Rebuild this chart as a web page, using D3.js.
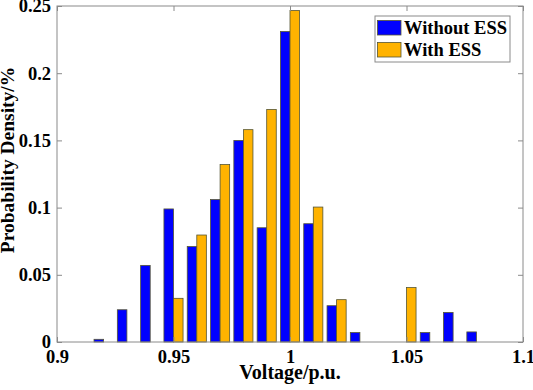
<!DOCTYPE html>
<html>
<head>
<meta charset="utf-8">
<script src="https://cdn.jsdelivr.net/npm/d3@7"></script>
<style>
  body { margin: 0; background: #fff; }
  svg { display: block; }
  text { font-family: "Liberation Serif", "Times New Roman", serif; font-weight: bold; fill: #000; }
</style>
</head>
<body>
<script>
// bin centres (p.u.)
const bins = [0.92, 0.93, 0.94, 0.95, 0.96, 0.97, 0.98, 0.99, 1.00, 1.01, 1.02, 1.03, 1.04, 1.05, 1.06, 1.07, 1.08];
const withoutESS = [0.002, 0.024, 0.057, 0.099, 0.071, 0.106, 0.150, 0.085, 0.231, 0.088, 0.027, 0.007, 0, 0, 0.007, 0.022, 0.0075];
const withESS    = [0, 0, 0, 0.0325, 0.0796, 0.132, 0.158, 0.173, 0.2466, 0.1004, 0.0315, 0, 0, 0.0405, 0, 0, 0];
const seriesNames = ['Without ESS', 'With ESS'];
const xTicks = [0.9, 0.95, 1, 1.05, 1.1];
const yTicks = [0, 0.05, 0.1, 0.15, 0.2, 0.25];

const W = 533, H = 390;
const m = { left: 57, right: 10, top: 6, bottom: 48 };
const colors = ['#0000ff', '#ffb300'];
const axisColor = '#8a8a8a';

const svg = d3.select('body').append('svg')
    .attr('width', W)
    .attr('height', H);

const x = d3.scaleLinear().domain([0.9, 1.1]).range([m.left, W - m.right]);
const y = d3.scaleLinear().domain([0, 0.25]).range([H - m.bottom, m.top]);

const fmt = d => String(+d.toFixed(2));

// bars: blue left of bin centre, orange right of it
const bw = x(0.9041) - x(0.9);
const series = [withoutESS, withESS];
series.forEach((vals, s) => {
    svg.append('g')
       .selectAll('rect')
       .data(bins.map((b, i) => ({ b, v: vals[i] })).filter(d => d.v > 0))
       .enter()
       .append('rect')
       .attr('x', d => s === 0 ? x(d.b) - bw : x(d.b))
       .attr('y', d => y(d.v))
       .attr('width', bw)
       .attr('height', d => y(0) - y(d.v))
       .attr('fill', colors[s])
       .attr('stroke', '#555533')
       .attr('stroke-width', 0.8);
});

// axes (ticks inward, box on)
const axB = svg.append('g')
    .attr('transform', 'translate(0,' + y(0) + ')')
    .call(d3.axisBottom(x).tickValues(xTicks).tickFormat(fmt).tickSizeInner(-5).tickSizeOuter(0).tickPadding(8));
const axT = svg.append('g')
    .attr('transform', 'translate(0,' + y(0.25) + ')')
    .call(d3.axisTop(x).tickValues(xTicks).tickFormat('').tickSizeInner(-5).tickSizeOuter(0));
const axL = svg.append('g')
    .attr('transform', 'translate(' + x(0.9) + ',0)')
    .call(d3.axisLeft(y).tickValues(yTicks).tickFormat(fmt).tickSizeInner(-5).tickSizeOuter(0).tickPadding(6));
const axR = svg.append('g')
    .attr('transform', 'translate(' + x(1.1) + ',0)')
    .call(d3.axisRight(y).tickValues(yTicks).tickFormat('').tickSizeInner(-5).tickSizeOuter(0));

[axB, axT, axL, axR].forEach(a => {
    a.select('.domain').remove();
    a.selectAll('line').attr('stroke', axisColor);
    a.selectAll('text')
     .style('font-family', '"Liberation Serif", "Times New Roman", serif')
     .style('font-weight', 'bold')
     .style('font-size', '18.5px')
     .attr('fill', '#000');
});

svg.append('rect')
   .attr('x', x(0.9))
   .attr('y', y(0.25))
   .attr('width', x(1.1) - x(0.9))
   .attr('height', y(0) - y(0.25))
   .attr('fill', 'none')
   .attr('stroke', axisColor)
   .attr('stroke-width', 1);

// axis labels
svg.append('text')
   .attr('x', (x(0.9) + x(1.1)) / 2)
   .attr('y', 379)
   .attr('text-anchor', 'middle')
   .style('font-size', '20px')
   .text('Voltage/p.u.');

svg.append('text')
   .attr('transform', 'translate(14,' + 160 + ') rotate(-90)')
   .attr('text-anchor', 'middle')
   .style('font-size', '19.5px')
   .text('Probability Density/%');

// legend
const lg = svg.append('g').attr('transform', 'translate(375,16)');
lg.append('rect')
  .attr('width', 135)
  .attr('height', 46)
  .attr('fill', '#fff')
  .attr('stroke', axisColor);
seriesNames.forEach((name, i) => {
    lg.append('rect')
      .attr('x', 2.5)
      .attr('y', 4.5 + i * 22)
      .attr('width', 23.5)
      .attr('height', 14.5)
      .attr('fill', colors[i])
      .attr('stroke', '#555533')
      .attr('stroke-width', 0.8);
    lg.append('text')
      .attr('x', 29)
      .attr('y', 17.5 + i * 22)
      .style('font-size', '18.5px')
      .text(name);
});
</script>
</body>
</html>
